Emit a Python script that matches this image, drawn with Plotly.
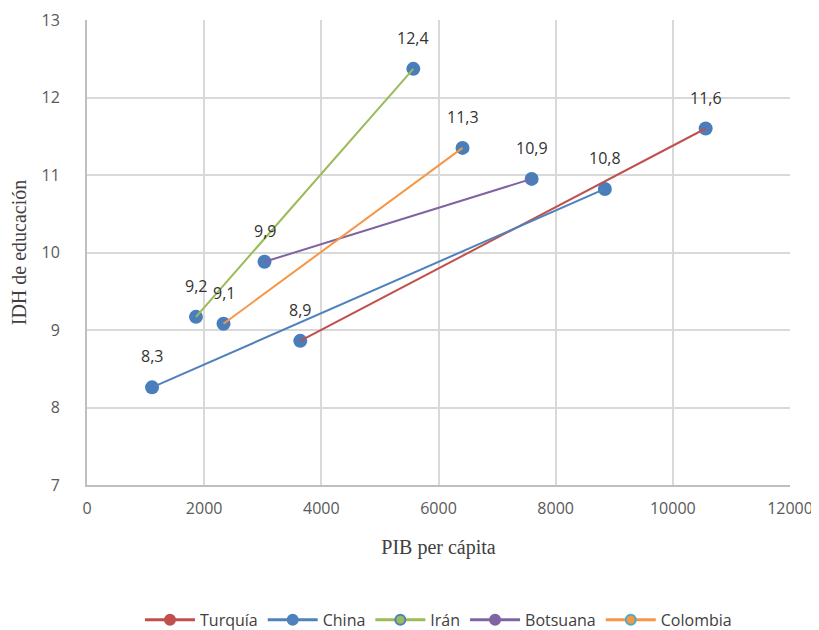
import plotly.graph_objects as go

series = ["Turquía", "China", "Irán", "Botsuana", "Colombia"]
pib = {
    "Turquía": [3640, 10560],
    "China": [1110, 8840],
    "Irán": [1860, 5570],
    "Botsuana": [3030, 7590],
    "Colombia": [2330, 6410],
}
idh = {
    "Turquía": [8.86, 11.6],
    "China": [8.26, 10.82],
    "Irán": [9.17, 12.37],
    "Botsuana": [9.88, 10.95],
    "Colombia": [9.08, 11.35],
}
labels = {
    "Turquía": ["8,9", "11,6"],
    "China": ["8,3", "10,8"],
    "Irán": ["9,2", "12,4"],
    "Botsuana": ["9,9", "10,9"],
    "Colombia": ["9,1", "11,3"],
}
line_colors = {
    "Turquía": "#C0504D",
    "China": "#4F81BD",
    "Irán": "#9BBB59",
    "Botsuana": "#8064A2",
    "Colombia": "#F79646",
}
legend_marker_border = {
    "Turquía": "#C0504D",
    "China": "#4F81BD",
    "Irán": "#4F81BD",
    "Botsuana": "#8064A2",
    "Colombia": "#4BACC6",
}
marker_blue = "#4A7EBB"

fig = go.Figure()

# markers (drawn first, underneath lines)
all_x, all_y = [], []
for s in series:
    all_x += pib[s]
    all_y += idh[s]
fig.add_trace(go.Scatter(x=all_x, y=all_y, mode="markers",
                         marker=dict(color=marker_blue, size=14),
                         showlegend=False, hoverinfo="skip"))

for s in series:
    fig.add_trace(go.Scatter(x=pib[s], y=idh[s], mode="lines",
                             line=dict(color=line_colors[s], width=2),
                             showlegend=False))

for s in series:
    fig.add_trace(go.Scatter(x=[None], y=[None], mode="lines+markers", name=s,
                             line=dict(color=line_colors[s], width=3),
                             marker=dict(color=line_colors[s], size=10,
                                         line=dict(color=legend_marker_border[s], width=2))))

annotations = []
for s in series:
    for xv, yv, t in zip(pib[s], idh[s], labels[s]):
        annotations.append(dict(x=xv, y=yv, text=t, showarrow=False, yshift=31,
                                font=dict(family="Open Sans, Liberation Sans, sans-serif",
                                          size=16, color="#333333")))

fig.update_layout(
    width=819, height=650,
    margin=dict(l=79, r=37, t=12, b=173),
    paper_bgcolor="white", plot_bgcolor="white",
    annotations=annotations,
    showlegend=True,
    legend=dict(orientation="h", x=0.5, xanchor="center", y=-0.29, yanchor="middle",
                font=dict(family="Open Sans, Liberation Sans, sans-serif", size=16, color="#404040"),
                itemwidth=50),
)
fig.update_xaxes(range=[0, 12000], dtick=2000, tickformat="d", showgrid=True,
                 gridcolor="#D9D9D9", gridwidth=2, automargin=False,
                 showline=True, linecolor="#BFBFBF", linewidth=2, zeroline=False,
                 tickfont=dict(family="Open Sans, Liberation Sans, sans-serif", size=16, color="#595959"),
                 ticks="outside", ticklen=8, tickcolor="rgba(0,0,0,0)",
                 title=dict(text="PIB per cápita", standoff=22,
                            font=dict(family="Liberation Serif, serif", size=20, color="#404040")))
fig.update_yaxes(range=[7, 13], dtick=1, showgrid=True, gridcolor="#D9D9D9", gridwidth=2,
                 automargin=False,
                 showline=True, linecolor="#BFBFBF", linewidth=2, zeroline=False,
                 tickfont=dict(family="Open Sans, Liberation Sans, sans-serif", size=16, color="#595959"),
                 ticks="outside", ticklen=22, tickcolor="rgba(0,0,0,0)",
                 title=dict(text="IDH de educación", standoff=12,
                            font=dict(family="Liberation Serif, serif", size=20, color="#404040")))

fig.write_html("out.html")
